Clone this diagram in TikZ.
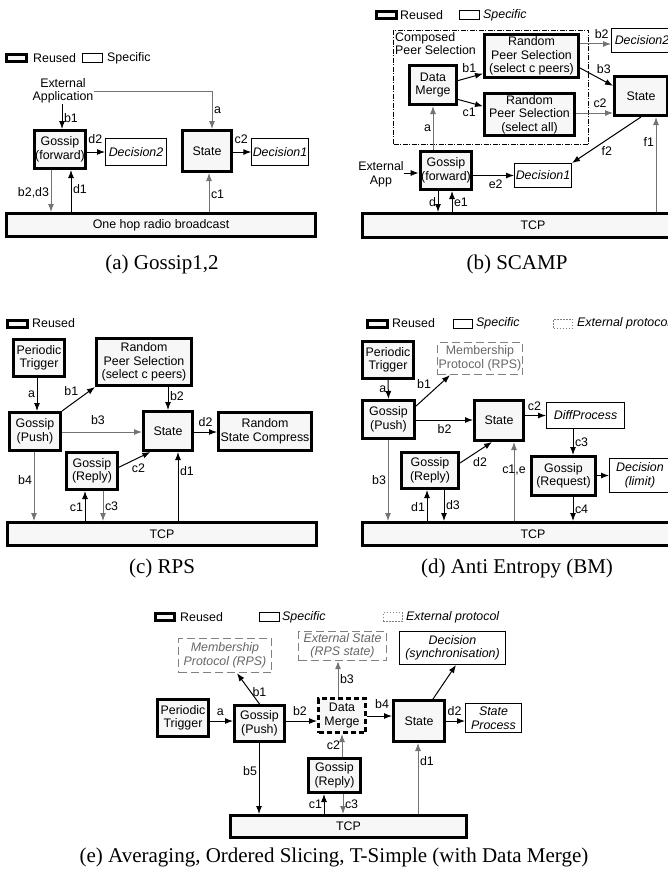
\documentclass[tikz,border=0pt]{standalone}
\usepackage{fontspec}
\setmainfont{Liberation Serif}
\setsansfont{Liberation Sans}
\usetikzlibrary{arrows.meta}

\newcommand\boxfont{\sffamily\fontsize{12.4}{13.5}\selectfont}
\newcommand\capfont{\rmfamily\fontsize{21}{25}\selectfont}

\tikzset{
  reused/.style={draw, line width=3pt, fill=black!3, align=center, inner sep=1pt, font=\boxfont},
  spec/.style={draw, line width=1pt, fill=white, align=center, inner sep=1pt, font=\boxfont\itshape},
  extp/.style={draw=black!50, line width=1.3pt, dash pattern=on 8pt off 4pt, align=center, inner sep=1pt, text=black!60, font=\boxfont},
  extpi/.style={extp, font=\boxfont\itshape},
  legtxt/.style={anchor=west, inner sep=0pt, font=\boxfont},
  legext/.style={draw=black!50, line width=1pt, dash pattern=on 1.5pt off 1.5pt},
  lbl/.style={inner sep=1.5pt, font=\boxfont},
  arr/.style={-{Latex[length=8pt,width=6pt]}, line width=1pt},
  arrg/.style={arr, draw=black!55},
  captxt/.style={font=\capfont}
}

\begin{document}
\begin{tikzpicture}[x=1pt, y=-1pt]
  \useasboundingbox (0,0) rectangle (668,875);
  \clip (0,0) rectangle (668,875);

  % (a) Gossip1,2
  \node[reused, minimum width=20, minimum height=7] (lgRa) at (16.5,58) {};
  \node[legtxt] (lgRaT) at (33,58) {Reused};
  \node[spec, minimum width=20, minimum height=9] (lgSa) at (92.5,58) {};
  \node[legtxt] (lgSaT) at (107,58) {Specific};
  \node[align=center, inner sep=0pt, font=\boxfont] (extA) at (63,91) {External\\Application};
  \node[reused, minimum width=51, minimum height=38] (gosA) at (60,149.5) {Gossip\\(forward)};
  \node[spec, minimum width=61, minimum height=27] (decA2) at (136,152) {Decision2};
  \node[reused, minimum width=49, minimum height=41] (stA) at (207,151) {State};
  \node[spec, minimum width=55, minimum height=27] (decA1) at (280,152) {Decision1};
  \node[reused, minimum width=309, minimum height=23] (bcA) at (161,225) {One hop radio broadcast};
  \node[captxt] (capA) at (162,264) {(a) Gossip1,2};

  \draw[arr] (62,0 |- extA.south) -- node[lbl, right, pos=.55] {b1} (62,0 |- gosA.north);
  \draw[arrg] (extA.east) -| node[lbl, right, pos=.75] {a} (212,0 |- stA.north);
  \draw[arr] (gosA.east |- decA2.west) -- node[lbl, above=6pt, pos=.45] {d2} (decA2.west);
  \draw[arr] (stA.east |- decA1.west) -- node[lbl, above=6pt, pos=.45] {c2} (decA1.west);
  \draw[arrg] (51,0 |- gosA.south) -- node[lbl, left, pos=.55] {b2,d3} (51,0 |- bcA.north);
  \draw[arr] (71,0 |- bcA.north) -- node[lbl, right, pos=.55] {d1} (71,0 |- gosA.south);
  \draw[arrg] (209,0 |- bcA.north) -- node[lbl, right, pos=.45] {c1} (209,0 |- stA.south);

  % (b) SCAMP
  \node[reused, minimum width=20, minimum height=7] (lgRb) at (386,15.5) {};
  \node[legtxt] (lgRbT) at (400,15.5) {Reused};
  \node[spec, minimum width=20, minimum height=9] (lgSb) at (469,15.5) {};
  \node[legtxt, font=\boxfont\itshape] (lgSbT) at (483,15.5) {Specific};
  \node[draw, line width=1pt, dash pattern=on 5pt off 1.5pt on 1pt off 1.5pt, minimum width=195, minimum height=114] (compB) at (491,87.5) {};
  \node[anchor=north west, align=left, inner sep=2pt, font=\boxfont] (compBT) at (compB.north west) {Composed\\Peer Selection};
  \node[reused, minimum width=47, minimum height=39] (dmB) at (433,85) {Data\\Merge};
  \node[reused, minimum width=94, minimum height=43] (rp1B) at (531.5,56) {Random\\Peer Selection\\(select c peers)};
  \node[reused, minimum width=90, minimum height=42] (rp2B) at (529.5,114.5) {Random\\Peer Selection\\(select all)};
  \node[reused, minimum width=53, minimum height=39] (stB) at (641,96) {State};
  \node[spec, minimum width=61, minimum height=24] (decB2) at (642,40.5) {Decision2};
  \node[reused, minimum width=51, minimum height=38] (gosB) at (446,170.5) {Gossip\\(forward)};
  \node[align=center, inner sep=0pt, font=\boxfont] (extB) at (381,174.5) {External\\App};
  \node[spec, minimum width=57, minimum height=24] (decB1) at (543,175.5) {Decision1};
  \node[reused, minimum width=341, minimum height=24] (tcpB) at (533,225.5) {TCP};
  \node[captxt] (capB) at (517,264) {(b) SCAMP};

  \draw[arr] (dmB.10) -- node[lbl, above=3pt, pos=.45] {b1} (rp1B.200);
  \draw[arr] (dmB.-30) -- node[lbl, below=3pt, pos=.45] {c1} (rp2B.170);
  \draw[arrg] (rp1B.east |- 0,44) -- node[lbl, above=3pt, pos=.7] {b2} (decB2.west |- 0,44);
  \draw[arr] (rp1B.east |- 0,68) -- node[lbl, above right, pos=.45] {b3} (stB.160);
  \draw[arrg] (rp2B.east |- 0,113) -- node[lbl, above=3pt, pos=.65] {c2} (stB.west |- 0,113);
  \draw[arrg] (dmB.south |- gosB.north) -- node[lbl, left, pos=.5] {a} (dmB.south);
  \draw[arr] (extB.east |- 0,173) -- (gosB.west |- 0,173);
  \draw[arr] (gosB.east |- decB1.west) -- node[lbl, below=2pt, pos=.55] {e2} (decB1.west);
  \draw[arr] (stB.south) -- node[lbl, below right, pos=.6] {f2} (decB1.north east);
  \draw[arrg] (656,0 |- tcpB.north) -- node[lbl, left, pos=.74] {f1} (656,0 |- stB.south);
  \draw[arr] (438,0 |- gosB.south) -- node[lbl, left, pos=.55] {d} (438,0 |- tcpB.north);
  \draw[arr] (452,0 |- tcpB.north) -- node[lbl, right, pos=.45] {e1} (452,0 |- gosB.south);

  % (c) RPS
  \node[reused, minimum width=20, minimum height=7] (lgRc) at (17,323.5) {};
  \node[legtxt] (lgRcT) at (32,323.5) {Reused};
  \node[reused, minimum width=51, minimum height=37] (ptC) at (39,358) {Periodic\\Trigger};
  \node[reused, minimum width=95, minimum height=47] (rpC) at (144,362) {Random\\Peer Selection\\(select c peers)};
  \node[reused, minimum width=51, minimum height=38] (gpC) at (35,431.5) {Gossip\\(Push)};
  \node[reused, minimum width=49, minimum height=39] (stC) at (168,431) {State};
  \node[reused, minimum width=93, minimum height=38] (rscC) at (265,431.5) {Random\\State Compress};
  \node[reused, minimum width=51, minimum height=37] (grC) at (92,471) {Gossip\\(Reply)};
  \node[reused, minimum width=309, minimum height=23] (tcpC) at (162,534) {TCP};
  \node[captxt] (capC) at (162,568) {(c) RPS};

  \draw[arr] (37,0 |- ptC.south) -- node[lbl, left, pos=.5] {a} (37,0 |- gpC.north);
  \draw[arr] (gpC.north east) -- node[lbl, above left, pos=.55] {b1} (rpC.south west);
  \draw[arr] (stC.north |- rpC.south) -- node[lbl, right, pos=.4] {b2} (stC.north);
  \draw[arrg] (gpC.east |- 0,432) -- node[lbl, above=5pt, pos=.45] {b3} (stC.west |- 0,432);
  \draw[arr] (stC.east |- 0,432) -- node[lbl, above=3pt, pos=.5] {d2} (rscC.west |- 0,432);
  \draw[arr] (grC.8) -- node[lbl, below right, pos=.35] {c2} (stC.230);
  \draw[arr] (178,0 |- tcpC.north) -- node[lbl, right, pos=.72] {d1} (178,0 |- stC.south);
  \draw[arrg] (34,0 |- gpC.south) -- node[lbl, left, pos=.4] {b4} (34,0 |- tcpC.north);
  \draw[arr] (85,0 |- tcpC.north) -- node[lbl, left, pos=.45] {c1} (85,0 |- grC.south);
  \draw[arrg] (103,0 |- grC.south) -- node[lbl, right, pos=.5] {c3} (103,0 |- tcpC.north);

  % (d) Anti Entropy (BM)
  \node[reused, minimum width=20, minimum height=7] (lgRd) at (377,323.5) {};
  \node[legtxt] (lgRdT) at (392,323.5) {Reused};
  \node[spec, minimum width=19, minimum height=9] (lgSd) at (463,323.5) {};
  \node[legtxt, font=\boxfont\itshape] (lgSdT) at (476,323.5) {Specific};
  \node[legext, minimum width=19, minimum height=9] (lgEd) at (563,323.5) {};
  \node[legtxt, font=\boxfont\itshape] (lgEdT) at (577,323.5) {External protocol};
  \node[reused, minimum width=51, minimum height=37] (ptD) at (388,360) {Periodic\\Trigger};
  \node[extp, minimum width=85, minimum height=32] (mpD) at (480,358.5) {Membership\\Protocol (RPS)};
  \node[reused, minimum width=52, minimum height=38] (gpD) at (388.5,419.5) {Gossip\\(Push)};
  \node[reused, minimum width=49, minimum height=40] (stD) at (499,420.5) {State};
  \node[spec, minimum width=78, minimum height=26] (dpD) at (585.5,415.5) {DiffProcess};
  \node[reused, minimum width=64, minimum height=39] (grqD) at (563.5,476) {Gossip\\(Request)};
  \node[spec, minimum width=61, minimum height=34] (dlD) at (640,475.5) {Decision\\(limit)};
  \node[reused, minimum width=57, minimum height=36] (grD) at (430,470.5) {Gossip\\(Reply)};
  \node[reused, minimum width=341, minimum height=23] (tcpD) at (533,534) {TCP};
  \node[captxt] (capD) at (517,568) {(d) Anti Entropy (BM)};

  \draw[arr] (ptD.south) -- node[lbl, left, pos=.5] {a} (gpD.north);
  \draw[arr] (gpD.26) -- node[lbl, above left, pos=.5] {b1} (mpD.209);
  \draw[arr] (gpD.east |- 0,420) -- node[lbl, below=3pt, pos=.5] {b2} (stD.west |- 0,420);
  \draw[arr] (stD.east |- dpD.west) -- node[lbl, above=3pt, pos=.45] {c2} (dpD.west);
  \draw[arr] (573,0 |- dpD.south) -- node[lbl, right, pos=.5] {c3} (573,0 |- grqD.north);
  \draw[arr] (grqD.east |- dlD.west) -- (dlD.west);
  \draw[arr] (573,0 |- grqD.south) -- node[lbl, right, pos=.5] {c4} (573,0 |- tcpD.north);
  \draw[arr] (grD.14) -- node[lbl, below right, pos=.35] {d2} (stD.252);
  \draw[arrg] (514,0 |- tcpD.north) -- node[lbl, pos=.65] {c1,e} (514,0 |- stD.south);
  \draw[arrg] (388,0 |- gpD.south) -- node[lbl, left, pos=.5] {b3} (388,0 |- tcpD.north);
  \draw[arr] (427,0 |- tcpD.north) -- node[lbl, left, pos=.45] {d1} (427,0 |- grD.south);
  \draw[arr] (444,0 |- grD.south) -- node[lbl, right, pos=.5] {d3} (444,0 |- tcpD.north);

  % (e) Averaging, Ordered Slicing, T-Simple
  \node[reused, minimum width=19, minimum height=7] (lgRe) at (164.5,617) {};
  \node[legtxt] (lgReT) at (180,617) {Reused};
  \node[spec, minimum width=20, minimum height=9] (lgSe) at (269,617) {};
  \node[legtxt, font=\boxfont\itshape] (lgSeT) at (282,617) {Specific};
  \node[legext, minimum width=19, minimum height=9] (lgEe) at (392.5,617) {};
  \node[legtxt, font=\boxfont\itshape] (lgEeT) at (406,617) {External protocol};
  \node[extpi, minimum width=93, minimum height=34] (mpE) at (225,655.5) {Membership\\Protocol (RPS)};
  \node[extpi, minimum width=88, minimum height=29] (esE) at (342.5,646) {External State\\(RPS state)};
  \node[spec, minimum width=106, minimum height=33] (dsE) at (452.5,648) {Decision\\(synchronisation)};
  \node[reused, minimum width=51, minimum height=37] (ptE) at (183,718) {Periodic\\Trigger};
  \node[reused, minimum width=50, minimum height=36] (gpE) at (259.5,723.5) {Gossip\\(Push)};
  \node[reused, dash pattern=on 5pt off 3pt, minimum width=47, minimum height=34] (dmE) at (342,715.5) {Data\\Merge};
  \node[reused, minimum width=51, minimum height=41] (stE) at (419,721) {State};
  \node[spec, minimum width=56, minimum height=29] (spE) at (493.5,718) {State\\Process};
  \node[reused, minimum width=52, minimum height=34] (grE) at (334.5,775.5) {Gossip\\(Reply)};
  \node[reused, minimum width=236, minimum height=22] (tcpE) at (348.5,826.5) {TCP};
  \node[captxt] (capE) at (334,857) {(e) Averaging, Ordered Slicing, T-Simple (with Data Merge)};

  \draw[arr] (ptE.east |- 0,721) -- node[lbl, above=3pt, pos=.45] {a} (gpE.west |- 0,721);
  \draw[arr] (gpE.north) -- node[lbl, right, pos=.4] {b1} (237,0 |- mpE.south);
  \draw[arr] (gpE.east |- 0,721) -- node[lbl, above=3pt, pos=.45] {b2} (dmE.west |- 0,721);
  \draw[arrg] (338,0 |- dmE.north) -- node[lbl, right, pos=.5] {b3} (338,0 |- esE.south);
  \draw[arr] (dmE.east |- 0,716) -- node[lbl, above=5pt, pos=.6] {b4} (stE.west |- 0,716);
  \draw[arr] (433,0 |- stE.north) -- (456,0 |- dsE.south);
  \draw[arr] (stE.east) -- node[lbl, above=3pt, pos=.45] {d2} (stE.east -| spE.west);
  \draw[arrg] (342,0 |- grE.north) -- node[lbl, left, pos=.5] {c2} (342,0 |- dmE.south);
  \draw[arr] (259,0 |- gpE.south) -- node[lbl, left, pos=.4] {b5} (259,0 |- tcpE.north);
  \draw[arr] (324,0 |- tcpE.north) -- node[lbl, left, pos=.5] {c1} (324,0 |- grE.south);
  \draw[arrg] (343,0 |- grE.south) -- node[lbl, right, pos=.5] {c3} (343,0 |- tcpE.north);
  \draw[arrg] (418,0 |- tcpE.north) -- node[lbl, right, pos=.75] {d1} (418,0 |- stE.south);
\end{tikzpicture}
\end{document}
